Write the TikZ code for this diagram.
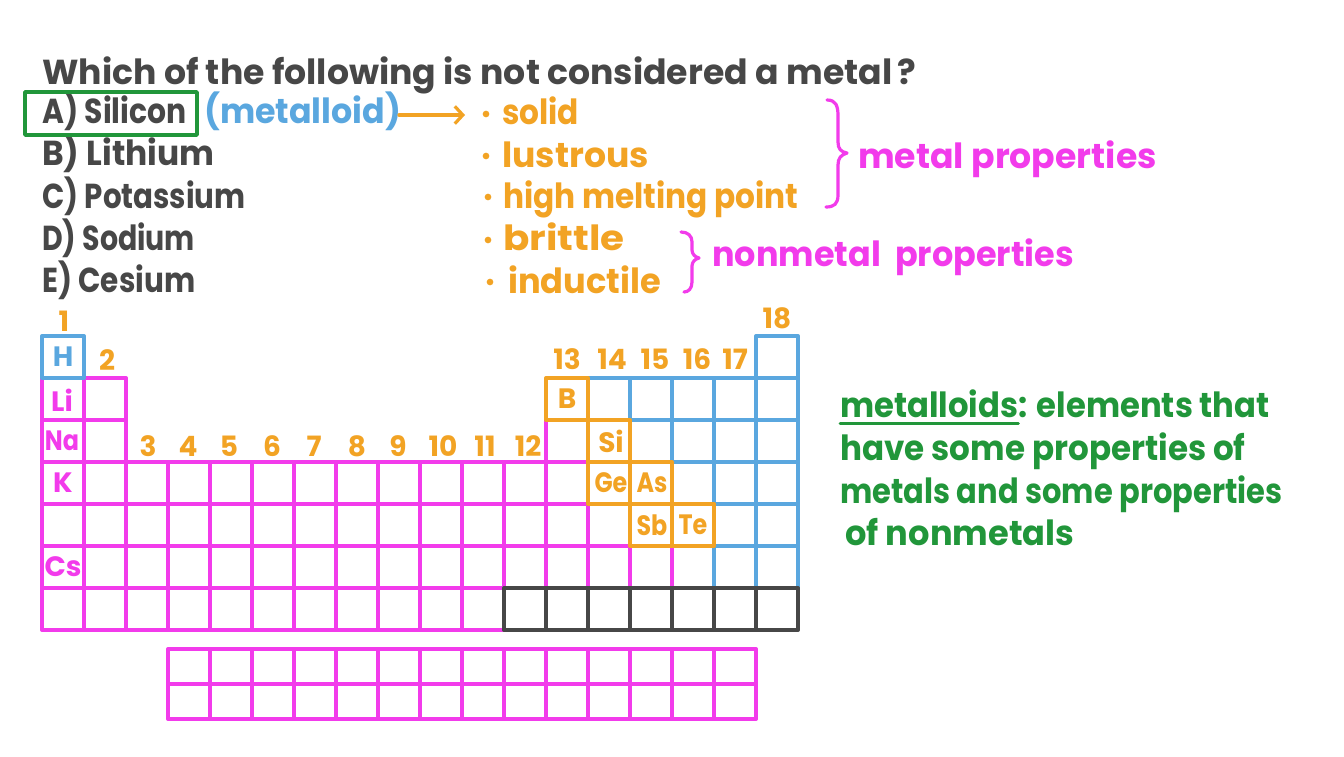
\documentclass[tikz,border=0pt]{standalone}
\usepackage{fontspec}
\setmainfont{Poppins}
\usetikzlibrary{arrows.meta}
\definecolor{pk}{HTML}{F23BEB}
\definecolor{og}{HTML}{F2A324}
\definecolor{bl}{HTML}{5AA7DF}
\definecolor{gr}{HTML}{21963A}
\definecolor{dk}{HTML}{474747}
\newcommand\cellat[3]{\draw[cellline,#3] ({42*#1},{294+42*#2}) rectangle ({42*#1+42},{336+42*#2});}
\newcommand\hs[2]{\scalebox{#1}[1]{#2}}
\begin{document}
\begin{tikzpicture}[x=0.75pt,y=-0.75pt,line cap=round,line join=round,
  cellline/.style={line width=3pt},
  txt/.style={anchor=base west,inner sep=0pt,font=\fontsize{26}{30}\selectfont\bfseries},
  grp/.style={inner sep=0pt,text=og,font=\fontsize{21}{24}\selectfont\bfseries},
  elem/.style={inner sep=0pt,font=\fontsize{21}{24}\selectfont\bfseries},
  brace/.style={pk,line width=2.4pt},
  bul/.style={circle,fill=og,inner sep=0pt,minimum size=5pt}]
\fill[white] (0,0) rectangle (1344,756);
\useasboundingbox (0,0) rectangle (1344,756);
% question
\node[txt,text=dk] (q) at (42,85) {Which of the following is not considered a metal\,?};
\node[txt,text=dk] (oa) at (42,124) {\hs{0.86}{A) Silicon}};
\node[txt,text=dk] (ob) at (42,166) {\hs{0.95}{B) Lithium}};
\node[txt,text=dk] (oc) at (42,208) {\hs{0.845}{C) Potassium}};
\node[txt,text=dk] (od) at (42,250) {\hs{0.82}{D) Sodium}};
\node[txt,text=dk] (oe) at (42,292) {\hs{0.85}{E) Cesium}};
\draw[gr,line width=2.6pt] (25,92) rectangle (197,135);
\node[txt,text=bl] (ml) at (204,124) {\hs{0.96}{(metalloid)}};
\coordinate (arS) at (399,115);
\coordinate (arE) at (465,115);
\draw[og,line width=2.4pt,-{Straight Barb[length=6pt,width=13pt,line width=2.4pt]}] (arS) -- (arE);
% properties
\node[bul] (b1) at (486,114) {};
\node[bul] (b2) at (486,156) {};
\node[bul] (b3) at (488,197) {};
\node[bul] (b4) at (488,240) {};
\node[bul] (b5) at (490,282) {};
\node[txt,text=og] (p1) at (502,125) {\hs{0.9}{solid}};
\node[txt,text=og] (p2) at (502,167) {lustrous};
\node[txt,text=og] (p3) at (503,208) {\hs{0.9}{high melting point}};
\node[txt,text=og] (p4) at (503,250) {\hs{1.12}{brittle}};
\node[txt,text=og] (p5) at (508,293) {\hs{0.97}{inductile}};
% braces
\draw[brace] (827,100) .. controls (836,100) and (838,106) .. (838,116) -- (838,142)
  .. controls (838,149) and (841,152) .. (847,153) .. controls (841,155) and (838,158) .. (838,165)
  -- (838,195) .. controls (838,204) and (834,207) .. (826,207);
\node[txt,text=pk] (mp) at (858,168) {metal properties};
\draw[brace] (681,232) .. controls (688,232) and (692,236) .. (692,242) -- (692,250)
  .. controls (692,254) and (695,257) .. (699,258) .. controls (695,259) and (692,262) .. (692,266)
  -- (692,282) .. controls (692,289) and (688,292) .. (684,292);
\node[txt,text=pk] (np) at (712,266) {\hs{0.965}{nonmetal\ \ properties}};
% definition
\node[txt,text=gr] (mw) at (840,417) {\hs{0.93}{metalloids}};
\node[txt,text=gr,anchor=base west] (d1) at (mw.base east) {\hs{0.93}{: elements that}};
\draw[gr,line width=2.2pt] ([yshift=-5pt]mw.base west) -- ([yshift=-5pt]mw.base east);
\node[txt,text=gr] (d2) at (840,460) {\hs{0.94}{have some properties of}};
\node[txt,text=gr] (d3) at (840,503) {\hs{0.88}{metals and some properties}};
\node[txt,text=gr] (d4) at (845,545) {\hs{0.97}{of nonmetals}};
% periodic table: pink
\foreach \c in {1,2} {\cellat{\c}{2}{pk}\cellat{\c}{3}{pk}}
\cellat{13}{3}{pk}
\foreach \r/\n in {4/13,5/14,6/16,7/11} {\foreach \c in {1,...,\n} {\cellat{\c}{\r}{pk}}}
% blue
\cellat{1}{1}{bl}\cellat{18}{1}{bl}
\foreach \r/\m in {2/14,3/15,4/16,5/17,6/17} {\foreach \c in {\m,...,18} {\cellat{\c}{\r}{bl}}}
% gray
\foreach \c in {12,...,18} {\cellat{\c}{7}{dk}}
% orange
\cellat{13}{2}{og}\cellat{14}{3}{og}\cellat{14}{4}{og}\cellat{15}{4}{og}\cellat{15}{5}{og}\cellat{16}{5}{og}
% lanthanides
\foreach \c in {0,...,13} {\foreach \r in {0,1} {
  \draw[cellline,pk] ({168+42*\c},{649+35*\r}) rectangle ({210+42*\c},{684+35*\r});}}
% element symbols
\node[elem,text=bl] (eH) at (63,357) {H};
\node[elem,text=pk] (eLi) at (62,400) {Li};
\node[elem,text=pk] (eNa) at (62,441) {\hs{0.85}{Na}};
\node[elem,text=pk] (eK) at (63,483) {K};
\node[elem,text=pk] (eCs) at (63,567) {Cs};
\node[elem,text=og] (eB) at (567,399) {B};
\node[elem,text=og] (eSi) at (611,441) {Si};
\node[elem,text=og] (eGe) at (611,483) {\hs{0.85}{Ge}};
\node[elem,text=og] (eAs) at (652,483) {\hs{0.85}{As}};
\node[elem,text=og] (eSb) at (652,525) {\hs{0.85}{Sb}};
\node[elem,text=og] (eTe) at (693,525) {\hs{0.85}{Te}};
% group numbers
\node[grp] (g1) at (64,321) {1};
\node[grp] (g2) at (107,360) {2};
\foreach \g/\x in {3/148,4/188,5/229,6/272,7/314,8/357,9/398,10/443,11/485,12/528} {
  \node[grp] (g\g) at (\x,446) {\g};}
\foreach \g/\x in {13/567,14/612,15/655,16/697,17/735} {
  \node[grp] (g\g) at (\x,359) {\g};}
\node[grp] (g18) at (777,318) {18};
\end{tikzpicture}
\end{document}
